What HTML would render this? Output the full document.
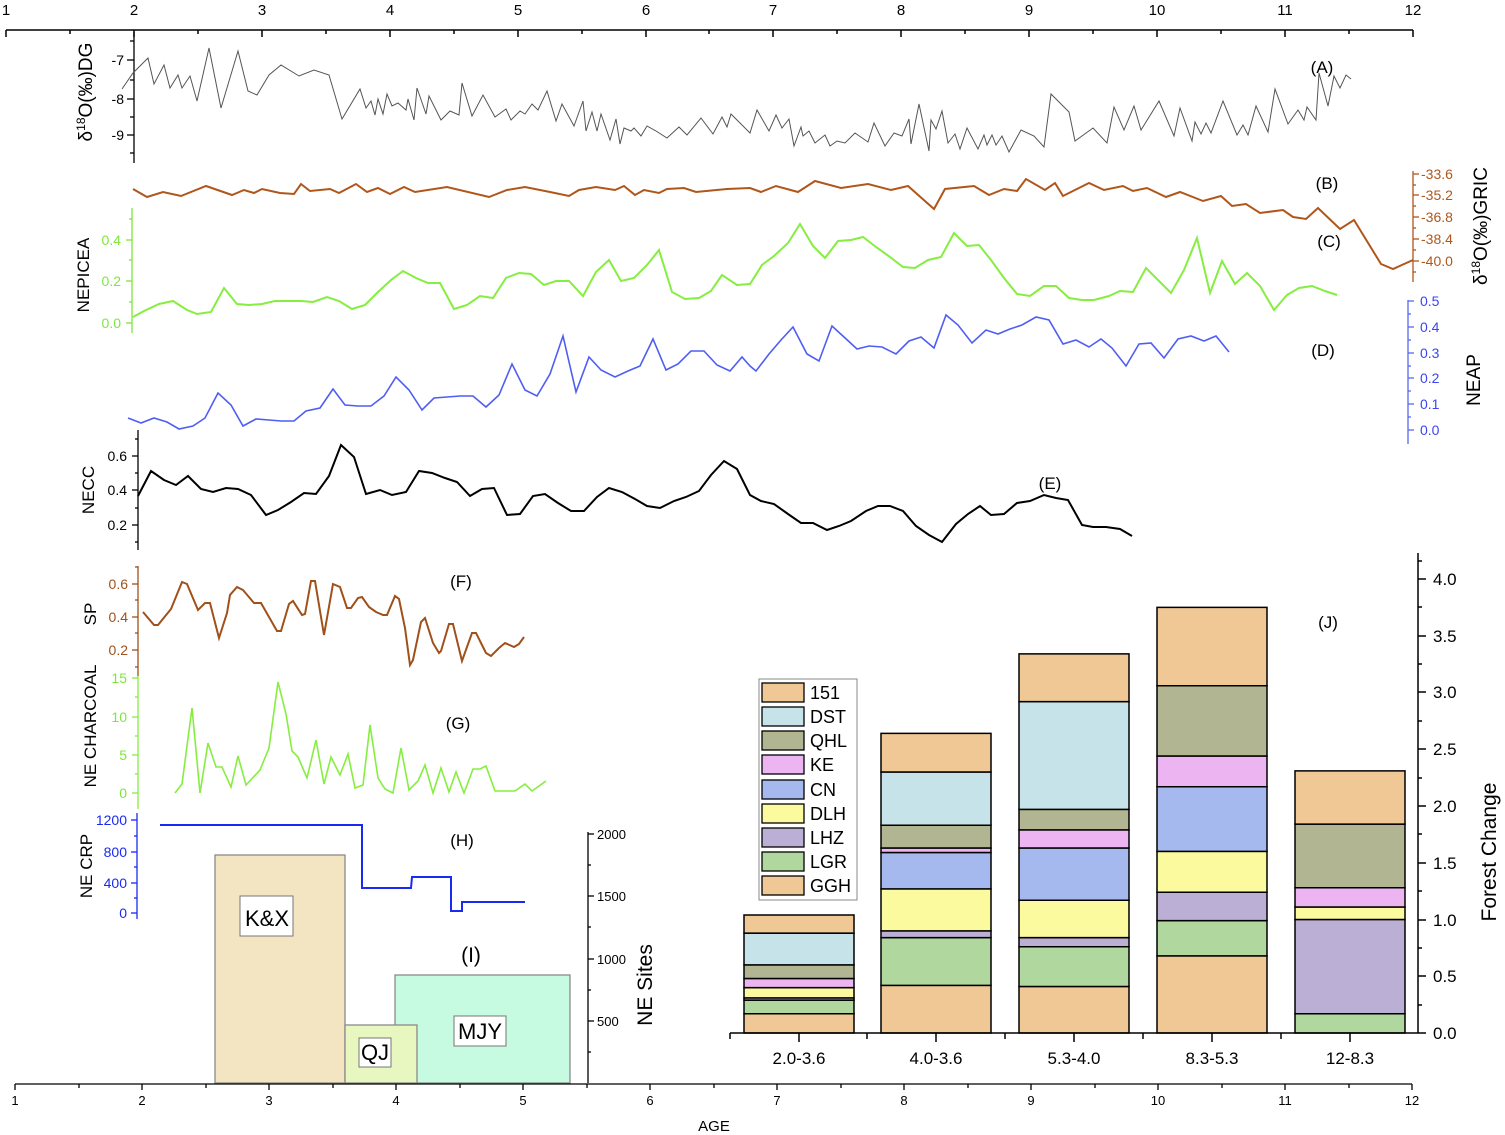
<!DOCTYPE html>
<html><head><meta charset="utf-8"><style>
html,body{margin:0;padding:0;background:#fff}
svg{display:block;font-family:"Liberation Sans",Arial,sans-serif}
</style></head><body>
<svg width="1505" height="1135" viewBox="0 0 1505 1135" xmlns="http://www.w3.org/2000/svg">
<!-- Top axis -->
<g stroke="#000" stroke-width="1.5">
<line x1="6" y1="30" x2="1413" y2="30"/>
<line x1="6" y1="30" x2="6" y2="37"/><line x1="134" y1="30" x2="134" y2="37"/><line x1="262" y1="30" x2="262" y2="37"/><line x1="390" y1="30" x2="390" y2="37"/><line x1="518" y1="30" x2="518" y2="37"/><line x1="646" y1="30" x2="646" y2="37"/><line x1="773" y1="30" x2="773" y2="37"/><line x1="901" y1="30" x2="901" y2="37"/><line x1="1029" y1="30" x2="1029" y2="37"/><line x1="1157" y1="30" x2="1157" y2="37"/><line x1="1285" y1="30" x2="1285" y2="37"/><line x1="1413" y1="30" x2="1413" y2="37"/>
<line x1="70" y1="30" x2="70" y2="34"/><line x1="198" y1="30" x2="198" y2="34"/><line x1="326" y1="30" x2="326" y2="34"/><line x1="454" y1="30" x2="454" y2="34"/><line x1="582" y1="30" x2="582" y2="34"/><line x1="709" y1="30" x2="709" y2="34"/><line x1="837" y1="30" x2="837" y2="34"/><line x1="965" y1="30" x2="965" y2="34"/><line x1="1093" y1="30" x2="1093" y2="34"/><line x1="1221" y1="30" x2="1221" y2="34"/><line x1="1349" y1="30" x2="1349" y2="34"/>
</g>
<g font-size="15" text-anchor="middle" fill="#000">
<text x="6" y="15">1</text><text x="134" y="15">2</text><text x="262" y="15">3</text><text x="390" y="15">4</text><text x="518" y="15">5</text><text x="646" y="15">6</text><text x="773" y="15">7</text><text x="901" y="15">8</text><text x="1029" y="15">9</text><text x="1157" y="15">10</text><text x="1285" y="15">11</text><text x="1413" y="15">12</text>
</g>

<!-- A axis -->
<g stroke="#000" stroke-width="1.3">
<line x1="134" y1="32" x2="134" y2="163"/>
<line x1="127" y1="60" x2="134" y2="60"/><line x1="127" y1="99" x2="134" y2="99"/><line x1="127" y1="135" x2="134" y2="135"/>
<line x1="130" y1="41" x2="134" y2="41"/><line x1="130" y1="80" x2="134" y2="80"/><line x1="130" y1="117" x2="134" y2="117"/><line x1="130" y1="153" x2="134" y2="153"/>
</g>
<g font-size="14" text-anchor="end"><text x="124" y="65">-7</text><text x="124" y="104">-8</text><text x="124" y="140">-9</text></g>
<text transform="translate(92,92) rotate(-90)" font-size="19" text-anchor="middle">δ<tspan font-size="12" dy="-7">18</tspan><tspan dy="7">O(‰)DG</tspan></text>
<polyline fill="none" stroke="#555" stroke-width="1" points="122,89 133,73 148,58 154,84 164,65 170,88 178,75 182,88 190,76 197,101 209,48 221,108 238,51 248,91 257,95 269,75 281,65 299,76 314,70 329,75 342,119 360,89 366,108 371,101 375,115 378,99 383,114 387,94 392,106 398,103 406,110 408,99 414,120 417,88 426,114 429,96 441,120 450,111 459,115 462,83 472,116 483,95 495,117 506,109 511,120 520,111 525,114 532,104 538,110 547,91 556,121 562,104 574,126 583,101 586,131 592,112 597,131 601,114 610,140 616,119 620,144 624,128 631,131 634,128 641,136 647,126 656,131 667,138 679,127 687,135 701,118 713,134 722,117 727,127 731,114 739,122 750,133 757,110 769,131 776,115 782,128 789,119 794,146 801,127 803,136 809,131 815,143 825,135 830,146 837,141 845,143 855,133 868,142 874,123 885,146 894,133 902,136 909,119 911,144 919,104 929,151 931,120 936,129 942,111 948,143 955,134 960,149 967,128 978,149 984,135 987,145 992,135 996,145 1002,136 1009,152 1021,130 1034,136 1044,147 1051,94 1069,112 1075,141 1093,128 1107,143 1114,107 1124,130 1134,106 1141,130 1159,101 1174,136 1180,108 1192,141 1195,122 1201,134 1206,123 1211,133 1223,101 1237,135 1243,125 1248,135 1256,106 1268,132 1275,89 1288,124 1298,110 1304,120 1307,107 1316,120 1319,73 1328,106 1334,76 1340,88 1346,75 1351,79"/>

<!-- B -->
<polyline fill="none" stroke="#b0561a" stroke-width="2" points="133,189 147,197 163,192 181,196 206,186 232,195 244,190 254,193 262,189 280,193 294,194 301,184 310,191 330,189 339,193 356,184 367,192 378,188 390,194 404,187 415,192 447,187 489,197 507,190 525,187 550,192 569,196 579,190 596,187 615,190 624,186 635,195 644,190 659,193 667,189 684,188 696,192 727,189 750,188 761,192 776,186 798,192 815,181 841,188 868,184 891,190 908,186 934,209 945,189 974,186 989,195 1004,189 1017,191 1026,179 1045,190 1055,183 1063,196 1089,183 1104,190 1123,186 1133,191 1147,188 1166,197 1180,192 1203,201 1221,196 1232,206 1246,204 1260,213 1283,210 1293,217 1306,219 1318,208 1340,229 1354,220 1381,264 1393,269 1413,260"/>
<g stroke="#b0561a" stroke-width="1.3">
<line x1="1413" y1="171" x2="1413" y2="282"/>
<line x1="1413" y1="174" x2="1419" y2="174"/><line x1="1413" y1="195" x2="1419" y2="195"/><line x1="1413" y1="217" x2="1419" y2="217"/><line x1="1413" y1="239" x2="1419" y2="239"/><line x1="1413" y1="261" x2="1419" y2="261"/>
<line x1="1413" y1="185" x2="1416" y2="185"/><line x1="1413" y1="206" x2="1416" y2="206"/><line x1="1413" y1="228" x2="1416" y2="228"/><line x1="1413" y1="250" x2="1416" y2="250"/><line x1="1413" y1="272" x2="1416" y2="272"/>
</g>
<g font-size="14" fill="#b0561a"><text x="1421" y="179">-33.6</text><text x="1421" y="200">-35.2</text><text x="1421" y="222">-36.8</text><text x="1421" y="244">-38.4</text><text x="1421" y="266">-40.0</text></g>
<text transform="translate(1487,226) rotate(-90)" font-size="19" text-anchor="middle">δ<tspan font-size="12" dy="-7">18</tspan><tspan dy="7">O(‰)GRIC</tspan></text>

<!-- C -->
<g stroke="#7ee83a" stroke-width="1.3">
<line x1="132" y1="208" x2="132" y2="333"/>
<line x1="126" y1="240" x2="132" y2="240"/><line x1="126" y1="281" x2="132" y2="281"/><line x1="126" y1="323" x2="132" y2="323"/>
<line x1="129" y1="219" x2="132" y2="219"/><line x1="129" y1="260" x2="132" y2="260"/><line x1="129" y1="302" x2="132" y2="302"/>
</g>
<g font-size="14" text-anchor="end" fill="#7ee83a"><text x="121" y="245">0.4</text><text x="121" y="286">0.2</text><text x="121" y="328">0.0</text></g>
<text transform="translate(89,275) rotate(-90)" font-size="17" text-anchor="middle">NEPICEA</text>
<polyline fill="none" stroke="#86ee40" stroke-width="2" points="133,317 144,311 159,304 173,301 187,310 197,314 211,312 224,288 237,304 249,305 262,304 275,301 288,301 301,301 313,302 327,297 339,301 352,309 365,305 378,292 391,280 403,271 416,278 428,283 440,283 454,309 467,305 480,296 493,298 506,278 519,273 531,274 544,285 556,281 569,281 583,296 596,272 609,260 621,281 634,278 647,265 659,250 672,292 685,299 699,298 711,291 722,275 737,285 750,284 762,265 774,256 788,243 800,224 813,246 825,258 838,241 851,240 863,237 876,247 890,257 903,267 915,268 928,260 941,257 954,233 967,246 979,245 991,260 1004,278 1017,294 1030,296 1044,286 1056,286 1069,298 1082,300 1094,300 1109,296 1120,291 1133,292 1146,268 1158,280 1171,293 1184,270 1197,238 1210,293 1222,261 1235,284 1247,273 1260,286 1274,310 1287,295 1299,288 1312,286 1325,291 1337,295"/>

<!-- D -->
<polyline fill="none" stroke="#4f5ef2" stroke-width="1.6" points="128,418 141,423 154,418 167,422 179,429 193,426 205,418 218,393 231,405 243,426 256,419 269,420 281,421 294,421 306,411 320,408 333,389 345,405 358,406 371,406 384,396 396,377 409,390 422,410 434,398 447,397 460,396 473,396 486,407 499,395 512,364 525,390 537,396 550,374 563,336 576,392 589,357 601,370 615,377 628,371 640,366 653,339 666,370 678,364 691,351 704,351 717,365 730,371 742,357 750,366 756,371 769,354 781,340 793,327 807,354 819,361 832,326 844,337 857,349 869,346 882,347 896,354 909,341 921,337 934,348 946,315 958,325 972,343 986,330 998,334 1010,329 1022,325 1036,317 1049,320 1063,344 1076,340 1089,347 1101,339 1112,348 1126,366 1139,344 1151,343 1164,358 1178,339 1191,336 1204,341 1216,336 1229,352"/>
<g stroke="#5a68f2" stroke-width="1.3">
<line x1="1408" y1="300" x2="1408" y2="444"/>
<line x1="1408" y1="301" x2="1414" y2="301"/><line x1="1408" y1="327" x2="1414" y2="327"/><line x1="1408" y1="353" x2="1414" y2="353"/><line x1="1408" y1="378" x2="1414" y2="378"/><line x1="1408" y1="404" x2="1414" y2="404"/><line x1="1408" y1="430" x2="1414" y2="430"/>
<line x1="1408" y1="314" x2="1411" y2="314"/><line x1="1408" y1="340" x2="1411" y2="340"/><line x1="1408" y1="366" x2="1411" y2="366"/><line x1="1408" y1="391" x2="1411" y2="391"/><line x1="1408" y1="417" x2="1411" y2="417"/>
</g>
<g font-size="14" fill="#3a46f0"><text x="1420" y="306">0.5</text><text x="1420" y="332">0.4</text><text x="1420" y="358">0.3</text><text x="1420" y="383">0.2</text><text x="1420" y="409">0.1</text><text x="1420" y="435">0.0</text></g>
<text transform="translate(1480,380) rotate(-90)" font-size="19" text-anchor="middle">NEAP</text>

<!-- E -->
<g stroke="#000" stroke-width="1.3">
<line x1="138" y1="430" x2="138" y2="550"/>
<line x1="132" y1="456" x2="138" y2="456"/><line x1="132" y1="490" x2="138" y2="490"/><line x1="132" y1="525" x2="138" y2="525"/>
<line x1="135" y1="439" x2="138" y2="439"/><line x1="135" y1="473" x2="138" y2="473"/><line x1="135" y1="508" x2="138" y2="508"/><line x1="135" y1="542" x2="138" y2="542"/>
</g>
<g font-size="14" text-anchor="end"><text x="127" y="461">0.6</text><text x="127" y="495">0.4</text><text x="127" y="530">0.2</text></g>
<text transform="translate(94,490) rotate(-90)" font-size="17" text-anchor="middle">NECC</text>
<polyline fill="none" stroke="#000" stroke-width="2" points="138,496 151,471 164,480 176,485 188,476 201,489 213,492 226,488 238,489 251,495 266,515 278,510 291,502 304,493 316,494 329,476 341,445 354,457 366,494 380,490 392,495 406,492 419,471 432,473 445,478 457,482 470,496 482,489 494,488 507,515 520,514 533,496 545,494 558,503 571,511 584,511 597,497 609,488 622,492 635,499 647,506 660,508 674,501 686,497 699,491 711,475 724,461 737,469 750,495 761,501 774,504 788,514 801,523 813,523 827,530 839,526 851,521 866,511 878,506 890,506 903,511 916,526 929,535 942,542 956,524 968,514 980,506 991,515 1004,514 1017,503 1030,501 1044,495 1056,498 1068,500 1082,525 1093,527 1106,527 1120,529 1132,536"/>

<!-- F -->
<g stroke="#a0501a" stroke-width="1.3">
<line x1="138" y1="566" x2="138" y2="676"/>
<line x1="132" y1="584" x2="138" y2="584"/><line x1="132" y1="617" x2="138" y2="617"/><line x1="132" y1="650" x2="138" y2="650"/>
<line x1="135" y1="567" x2="138" y2="567"/><line x1="135" y1="600" x2="138" y2="600"/><line x1="135" y1="633" x2="138" y2="633"/><line x1="135" y1="667" x2="138" y2="667"/>
</g>
<g font-size="14" text-anchor="end" fill="#a0501a"><text x="128" y="589">0.6</text><text x="128" y="622">0.4</text><text x="128" y="655">0.2</text></g>
<text transform="translate(96,614) rotate(-90)" font-size="17" text-anchor="middle">SP</text>
<polyline fill="none" stroke="#a0501a" stroke-width="2" points="143,612 154,625 158,625 171,609 182,582 187,584 198,610 205,603 210,603 219,638 227,613 230,595 237,587 243,590 254,603 261,603 277,631 281,631 289,604 293,601 302,615 305,614 311,581 315,581 324,635 333,584 340,587 347,608 351,608 358,598 362,597 369,607 376,612 383,615 387,615 395,596 399,599 405,628 410,665 413,660 421,622 425,618 433,643 439,653 441,651 449,624 453,624 462,661 472,633 476,633 486,653 491,656 499,648 505,643 514,647 519,644 524,637"/>

<!-- G -->
<g stroke="#86ee40" stroke-width="1.3">
<line x1="138" y1="676" x2="138" y2="809"/>
<line x1="132" y1="678" x2="138" y2="678"/><line x1="132" y1="717" x2="138" y2="717"/><line x1="132" y1="755" x2="138" y2="755"/><line x1="132" y1="793" x2="138" y2="793"/>
<line x1="135" y1="697" x2="138" y2="697"/><line x1="135" y1="736" x2="138" y2="736"/><line x1="135" y1="774" x2="138" y2="774"/>
</g>
<g font-size="14" text-anchor="end" fill="#7ee83a"><text x="127" y="683">15</text><text x="127" y="722">10</text><text x="127" y="760">5</text><text x="127" y="798">0</text></g>
<text transform="translate(96,726) rotate(-90)" font-size="17" text-anchor="middle">NE CHARCOAL</text>
<polyline fill="none" stroke="#86ee40" stroke-width="1.6" points="175,793 182,784 192,708 200,793 208,743 216,767 222,767 231,787 238,756 246,785 260,770 269,748 278,682 286,714 292,751 298,757 307,778 316,740 324,784 331,757 340,775 348,754 355,788 363,785 370,725 378,778 385,789 393,793 401,748 409,790 418,781 425,765 433,793 441,768 449,792 456,772 464,793 473,769 480,769 486,766 495,791 515,791 525,784 532,791 546,781"/>

<!-- I rects -->
<rect x="395" y="975" width="175" height="108" fill="#c6fbe1" stroke="#8a8a8a" stroke-width="1.3"/>
<rect x="215" y="855" width="130" height="228" fill="#f3e5c1" stroke="#8a8a8a" stroke-width="1.3"/>
<rect x="345" y="1025" width="72" height="58" fill="#e8f6c0" stroke="#8a8a8a" stroke-width="1.3"/>
<g fill="#fff" stroke="#777" stroke-width="1"><rect x="240" y="896" width="53" height="40"/><rect x="359" y="1038" width="32" height="29"/><rect x="454" y="1016" width="52" height="30"/></g>
<g font-size="22" text-anchor="middle"><text x="267" y="926">K&amp;X</text><text x="375" y="1060">QJ</text><text x="480" y="1039">MJY</text></g>
<g stroke="#000" stroke-width="1.3">
<line x1="588" y1="832" x2="588" y2="1083"/>
<line x1="588" y1="834" x2="594" y2="834"/><line x1="588" y1="896" x2="594" y2="896"/><line x1="588" y1="959" x2="594" y2="959"/><line x1="588" y1="1021" x2="594" y2="1021"/>
<line x1="588" y1="865" x2="591" y2="865"/><line x1="588" y1="927" x2="591" y2="927"/><line x1="588" y1="990" x2="591" y2="990"/><line x1="588" y1="1052" x2="591" y2="1052"/>
</g>
<g font-size="13"><text x="597" y="839">2000</text><text x="597" y="901">1500</text><text x="597" y="964">1000</text><text x="597" y="1026">500</text></g>
<text transform="translate(652,985) rotate(-90)" font-size="21" text-anchor="middle">NE Sites</text>

<!-- H -->
<g stroke="#1a2af0" stroke-width="1.3">
<line x1="137" y1="813" x2="137" y2="919"/>
<line x1="131" y1="820" x2="137" y2="820"/><line x1="131" y1="852" x2="137" y2="852"/><line x1="131" y1="883" x2="137" y2="883"/><line x1="131" y1="913" x2="137" y2="913"/>
<line x1="134" y1="836" x2="137" y2="836"/><line x1="134" y1="867" x2="137" y2="867"/><line x1="134" y1="898" x2="137" y2="898"/>
</g>
<g font-size="14" text-anchor="end" fill="#1a2af0"><text x="127" y="825">1200</text><text x="127" y="857">800</text><text x="127" y="888">400</text><text x="127" y="918">0</text></g>
<text transform="translate(92,866) rotate(-90)" font-size="17" text-anchor="middle">NE CRP</text>
<polyline fill="none" stroke="#1a2af0" stroke-width="2" points="160,825 362,825 362,888 411,888 412,877 451,877 451,911 462,911 462,902 525,902"/>

<!-- panel letters -->
<g font-size="17" text-anchor="middle">
<text x="1322" y="73">(A)</text><text x="1327" y="189">(B)</text><text x="1329" y="247">(C)</text><text x="1323" y="356">(D)</text><text x="1050" y="489">(E)</text><text x="461" y="587">(F)</text><text x="458" y="729">(G)</text><text x="462" y="846">(H)</text><text x="471" y="962" font-size="21">(I)</text><text x="1328" y="628">(J)</text>
</g>

<!-- bar chart -->
<g transform="translate(0,1033) scale(1,-113.5)" stroke="#000" stroke-width="1.5">
<g vector-effect="non-scaling-stroke">
<!-- bar1 -->
<rect x="744" y="0" width="110" height="0.17" fill="#f0c896" vector-effect="non-scaling-stroke"/>
<rect x="744" y="0.17" width="110" height="0.12" fill="#b0d79e" vector-effect="non-scaling-stroke"/>
<rect x="744" y="0.29" width="110" height="0.02" fill="#bcafd5" vector-effect="non-scaling-stroke"/>
<rect x="744" y="0.31" width="110" height="0.09" fill="#fbfa9e" vector-effect="non-scaling-stroke"/>
<rect x="744" y="0.40" width="110" height="0.08" fill="#ecb5f2" vector-effect="non-scaling-stroke"/>
<rect x="744" y="0.48" width="110" height="0.12" fill="#b1b591" vector-effect="non-scaling-stroke"/>
<rect x="744" y="0.60" width="110" height="0.28" fill="#c5e3e8" vector-effect="non-scaling-stroke"/>
<rect x="744" y="0.88" width="110" height="0.16" fill="#f0c896" vector-effect="non-scaling-stroke"/>
<!-- bar2 -->
<rect x="881" y="0" width="110" height="0.42" fill="#f0c896" vector-effect="non-scaling-stroke"/>
<rect x="881" y="0.42" width="110" height="0.42" fill="#b0d79e" vector-effect="non-scaling-stroke"/>
<rect x="881" y="0.84" width="110" height="0.06" fill="#bcafd5" vector-effect="non-scaling-stroke"/>
<rect x="881" y="0.90" width="110" height="0.37" fill="#fbfa9e" vector-effect="non-scaling-stroke"/>
<rect x="881" y="1.27" width="110" height="0.32" fill="#a6b9ef" vector-effect="non-scaling-stroke"/>
<rect x="881" y="1.59" width="110" height="0.04" fill="#ecb5f2" vector-effect="non-scaling-stroke"/>
<rect x="881" y="1.63" width="110" height="0.20" fill="#b1b591" vector-effect="non-scaling-stroke"/>
<rect x="881" y="1.83" width="110" height="0.47" fill="#c5e3e8" vector-effect="non-scaling-stroke"/>
<rect x="881" y="2.30" width="110" height="0.34" fill="#f0c896" vector-effect="non-scaling-stroke"/>
<!-- bar3 -->
<rect x="1019" y="0" width="110" height="0.41" fill="#f0c896" vector-effect="non-scaling-stroke"/>
<rect x="1019" y="0.41" width="110" height="0.35" fill="#b0d79e" vector-effect="non-scaling-stroke"/>
<rect x="1019" y="0.76" width="110" height="0.08" fill="#bcafd5" vector-effect="non-scaling-stroke"/>
<rect x="1019" y="0.84" width="110" height="0.33" fill="#fbfa9e" vector-effect="non-scaling-stroke"/>
<rect x="1019" y="1.17" width="110" height="0.46" fill="#a6b9ef" vector-effect="non-scaling-stroke"/>
<rect x="1019" y="1.63" width="110" height="0.16" fill="#ecb5f2" vector-effect="non-scaling-stroke"/>
<rect x="1019" y="1.79" width="110" height="0.18" fill="#b1b591" vector-effect="non-scaling-stroke"/>
<rect x="1019" y="1.97" width="110" height="0.95" fill="#c5e3e8" vector-effect="non-scaling-stroke"/>
<rect x="1019" y="2.92" width="110" height="0.42" fill="#f0c896" vector-effect="non-scaling-stroke"/>
<!-- bar4 -->
<rect x="1157" y="0" width="110" height="0.68" fill="#f0c896" vector-effect="non-scaling-stroke"/>
<rect x="1157" y="0.68" width="110" height="0.31" fill="#b0d79e" vector-effect="non-scaling-stroke"/>
<rect x="1157" y="0.99" width="110" height="0.25" fill="#bcafd5" vector-effect="non-scaling-stroke"/>
<rect x="1157" y="1.24" width="110" height="0.36" fill="#fbfa9e" vector-effect="non-scaling-stroke"/>
<rect x="1157" y="1.60" width="110" height="0.57" fill="#a6b9ef" vector-effect="non-scaling-stroke"/>
<rect x="1157" y="2.17" width="110" height="0.27" fill="#ecb5f2" vector-effect="non-scaling-stroke"/>
<rect x="1157" y="2.44" width="110" height="0.62" fill="#b1b591" vector-effect="non-scaling-stroke"/>
<rect x="1157" y="3.06" width="110" height="0.69" fill="#f0c896" vector-effect="non-scaling-stroke"/>
<!-- bar5 -->
<rect x="1295" y="0" width="110" height="0.17" fill="#b0d79e" vector-effect="non-scaling-stroke"/>
<rect x="1295" y="0.17" width="110" height="0.83" fill="#bcafd5" vector-effect="non-scaling-stroke"/>
<rect x="1295" y="1.00" width="110" height="0.11" fill="#fbfa9e" vector-effect="non-scaling-stroke"/>
<rect x="1295" y="1.11" width="110" height="0.17" fill="#ecb5f2" vector-effect="non-scaling-stroke"/>
<rect x="1295" y="1.28" width="110" height="0.56" fill="#b1b591" vector-effect="non-scaling-stroke"/>
<rect x="1295" y="1.84" width="110" height="0.47" fill="#f0c896" vector-effect="non-scaling-stroke"/>
</g>
</g>
<g stroke="#000" stroke-width="1.5">
<line x1="730" y1="1033" x2="1418" y2="1033"/>
<line x1="1418" y1="553" x2="1418" y2="1033"/>
<line x1="730" y1="1033" x2="730" y2="1039"/><line x1="799" y1="1033" x2="799" y2="1042"/><line x1="867" y1="1033" x2="867" y2="1039"/><line x1="936" y1="1033" x2="936" y2="1042"/><line x1="1005" y1="1033" x2="1005" y2="1039"/><line x1="1074" y1="1033" x2="1074" y2="1042"/><line x1="1143" y1="1033" x2="1143" y2="1039"/><line x1="1212" y1="1033" x2="1212" y2="1042"/><line x1="1281" y1="1033" x2="1281" y2="1039"/><line x1="1350" y1="1033" x2="1350" y2="1042"/>
<line x1="1418" y1="1033" x2="1426" y2="1033"/><line x1="1418" y1="976" x2="1426" y2="976"/><line x1="1418" y1="920" x2="1426" y2="920"/><line x1="1418" y1="863" x2="1426" y2="863"/><line x1="1418" y1="806" x2="1426" y2="806"/><line x1="1418" y1="749" x2="1426" y2="749"/><line x1="1418" y1="692" x2="1426" y2="692"/><line x1="1418" y1="636" x2="1426" y2="636"/><line x1="1418" y1="579" x2="1426" y2="579"/>
<line x1="1418" y1="1005" x2="1422" y2="1005"/><line x1="1418" y1="948" x2="1422" y2="948"/><line x1="1418" y1="891" x2="1422" y2="891"/><line x1="1418" y1="834" x2="1422" y2="834"/><line x1="1418" y1="778" x2="1422" y2="778"/><line x1="1418" y1="721" x2="1422" y2="721"/><line x1="1418" y1="664" x2="1422" y2="664"/><line x1="1418" y1="607" x2="1422" y2="607"/><line x1="1418" y1="561" x2="1422" y2="561"/>
</g>
<g font-size="17"><text x="1433" y="1039">0.0</text><text x="1433" y="982">0.5</text><text x="1433" y="926">1.0</text><text x="1433" y="869">1.5</text><text x="1433" y="812">2.0</text><text x="1433" y="755">2.5</text><text x="1433" y="698">3.0</text><text x="1433" y="642">3.5</text><text x="1433" y="585">4.0</text></g>
<text transform="translate(1496,852) rotate(-90)" font-size="21" text-anchor="middle">Forest Change</text>
<g font-size="17" text-anchor="middle"><text x="799" y="1064">2.0-3.6</text><text x="936" y="1064">4.0-3.6</text><text x="1074" y="1064">5.3-4.0</text><text x="1212" y="1064">8.3-5.3</text><text x="1350" y="1064">12-8.3</text></g>

<!-- legend -->
<rect x="759" y="679" width="98" height="221" fill="#fff" stroke="#888" stroke-width="1"/>
<g stroke="#000" stroke-width="1.3">
<rect x="762" y="683" width="42" height="19" fill="#f0c896"/>
<rect x="762" y="707" width="42" height="19" fill="#c5e3e8"/>
<rect x="762" y="731" width="42" height="19" fill="#b1b591"/>
<rect x="762" y="755" width="42" height="19" fill="#ecb5f2"/>
<rect x="762" y="780" width="42" height="19" fill="#a6b9ef"/>
<rect x="762" y="804" width="42" height="19" fill="#fbfa9e"/>
<rect x="762" y="828" width="42" height="19" fill="#bcafd5"/>
<rect x="762" y="852" width="42" height="19" fill="#b0d79e"/>
<rect x="762" y="876" width="42" height="19" fill="#f0c896"/>
</g>
<g font-size="18"><text x="810" y="699">151</text><text x="810" y="723">DST</text><text x="810" y="747">QHL</text><text x="810" y="771">KE</text><text x="810" y="796">CN</text><text x="810" y="820">DLH</text><text x="810" y="844">LHZ</text><text x="810" y="868">LGR</text><text x="810" y="892">GGH</text></g>

<!-- bottom axis -->
<g stroke="#000" stroke-width="1.3">
<line x1="15" y1="1084" x2="1412" y2="1084"/>
<line x1="15" y1="1084" x2="15" y2="1090"/><line x1="142" y1="1084" x2="142" y2="1090"/><line x1="269" y1="1084" x2="269" y2="1090"/><line x1="396" y1="1084" x2="396" y2="1090"/><line x1="523" y1="1084" x2="523" y2="1090"/><line x1="650" y1="1084" x2="650" y2="1090"/><line x1="777" y1="1084" x2="777" y2="1090"/><line x1="904" y1="1084" x2="904" y2="1090"/><line x1="1031" y1="1084" x2="1031" y2="1090"/><line x1="1158" y1="1084" x2="1158" y2="1090"/><line x1="1285" y1="1084" x2="1285" y2="1090"/><line x1="1412" y1="1084" x2="1412" y2="1090"/>
<line x1="79" y1="1084" x2="79" y2="1088"/><line x1="206" y1="1084" x2="206" y2="1088"/><line x1="333" y1="1084" x2="333" y2="1088"/><line x1="460" y1="1084" x2="460" y2="1088"/><line x1="587" y1="1084" x2="587" y2="1088"/><line x1="714" y1="1084" x2="714" y2="1088"/><line x1="841" y1="1084" x2="841" y2="1088"/><line x1="968" y1="1084" x2="968" y2="1088"/><line x1="1095" y1="1084" x2="1095" y2="1088"/><line x1="1222" y1="1084" x2="1222" y2="1088"/><line x1="1349" y1="1084" x2="1349" y2="1088"/>
</g>
<g font-size="13" text-anchor="middle"><text x="15" y="1105">1</text><text x="142" y="1105">2</text><text x="269" y="1105">3</text><text x="396" y="1105">4</text><text x="523" y="1105">5</text><text x="650" y="1105">6</text><text x="777" y="1105">7</text><text x="904" y="1105">8</text><text x="1031" y="1105">9</text><text x="1158" y="1105">10</text><text x="1285" y="1105">11</text><text x="1412" y="1105">12</text></g>
<text x="714" y="1131" font-size="15" text-anchor="middle">AGE</text>
</svg>
</body></html>
